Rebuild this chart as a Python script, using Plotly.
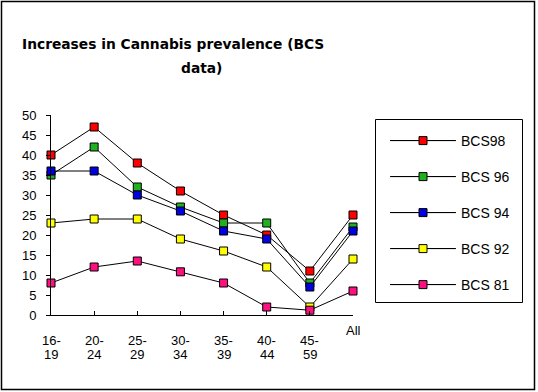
import plotly.graph_objects as go

age_groups = ["16-19", "20-24", "25-29", "30-34", "35-39", "40-44", "45-59", "All"]
series_names = ["BCS98", "BCS 96", "BCS 94", "BCS 92", "BCS 81"]
bcs98 = [40, 47, 38, 31, 25, 20, 11, 25]
bcs96 = [35, 42, 32, 27, 23, 23, 8, 22]
bcs94 = [36, 36, 30, 26, 21, 19, 7, 21]
bcs92 = [23, 24, 24, 19, 16, 12, 2, 14]
bcs81 = [8, 12, 13.5, 10.8, 8, 2, 1.2, 6]
y_ticks = [0, 5, 10, 15, 20, 25, 30, 35, 40, 45, 50]

series_values = [bcs98, bcs96, bcs94, bcs92, bcs81]
colors = ["#ff0000", "#20b020", "#0000e0", "#ffff00", "#ff1080"]

W, H = 538, 392
L, R, T, B = 51, 185, 115, 77
PW, PH = W - L - R, H - T - B

def px(x):
    return (x - L) / PW

def py(y):
    return (H - B - y) / PH

FONT = "Liberation Sans, Arial, sans-serif"
TFONT = "DejaVu Sans, Verdana, sans-serif"

fig = go.Figure()
xs = list(range(len(age_groups)))
for name, vals, col in zip(series_names, series_values, colors):
    fig.add_trace(go.Scatter(
        x=xs, y=vals, name=name, mode="lines+markers",
        line=dict(color="black", width=1),
        marker=dict(symbol="square", size=8, color=col,
                    line=dict(color="black", width=1)),
        cliponaxis=False, legendgroup=name,
    ))

annotations = []
for i, lab in enumerate(age_groups):
    if "-" in lab:
        first, second = lab.split("-", 1)
        parts = [(first + "-", -25), (second, -39)]
    else:
        parts = [(lab, -15)]
    for text, ys in parts:
        annotations.append(dict(
            x=i, y=0, xref="x", yref="y", text=text, showarrow=False,
            xanchor="center", yanchor="middle", yshift=ys, align="center",
            font=dict(family=FONT, size=13, color="black"),
        ))

annotations.append(dict(
    x=px(172.5), y=py(44), xref="paper", yref="paper",
    text="<b>Increases in Cannabis prevalence (BCS</b>", showarrow=False,
    xanchor="center", yanchor="middle",
    font=dict(family=TFONT, size=13.8, color="black"),
))
annotations.append(dict(
    x=px(201.5), y=py(68), xref="paper", yref="paper",
    text="<b>data)</b>", showarrow=False,
    xanchor="center", yanchor="middle",
    font=dict(family=TFONT, size=13.8, color="black"),
))

legend_rows_y = [140, 176, 212, 248, 284]
shapes = [
    dict(type="rect", xref="paper", yref="paper",
         x0=px(1.5), x1=px(534.5), y0=py(389.5), y1=py(1.5),
         line=dict(color="black", width=1.5), layer="below"),
    dict(type="rect", xref="paper", yref="paper",
         x0=px(375.5), x1=px(522.5), y0=py(302.5), y1=py(119.5),
         line=dict(color="black", width=1), layer="below"),
]
for yy in legend_rows_y:
    shapes.append(dict(type="line", xref="paper", yref="paper",
                       x0=px(391), x1=px(455), y0=py(yy + 0.5), y1=py(yy + 0.5),
                       line=dict(color="black", width=1), layer="below"))

fig.update_layout(
    width=W, height=H,
    margin=dict(l=L, r=R, t=T, b=B, pad=0),
    paper_bgcolor="white", plot_bgcolor="white",
    font=dict(family=FONT, size=13, color="black"),
    showlegend=True,
    legend=dict(
        x=px(385), y=py(125), xanchor="left", yanchor="top",
        bgcolor="rgba(0,0,0,0)", borderwidth=0,
        tracegroupgap=14.8, itemwidth=66,
        font=dict(family=FONT, size=14, color="black"),
        traceorder="grouped",
    ),
    xaxis=dict(
        range=[0, len(age_groups) - 1], tickvals=xs, ticktext=[""] * len(xs),
        showgrid=False, zeroline=False, showline=True, linecolor="black",
        linewidth=1, ticks="inside", ticklen=4, tickcolor="black",
    ),
    yaxis=dict(
        range=[0, 50], tickvals=y_ticks, ticktext=[str(v) for v in y_ticks],
        showgrid=False, zeroline=False, showline=True, linecolor="black",
        linewidth=1, ticks="outside", ticklen=4, tickcolor="black",
        ticklabelstandoff=7,
        tickfont=dict(family=FONT, size=13, color="black"),
    ),
    annotations=annotations, shapes=shapes,
)

fig.write_html("out.html", config={"displayModeBar": False},
               post_script="document.body.style.margin='0';")
